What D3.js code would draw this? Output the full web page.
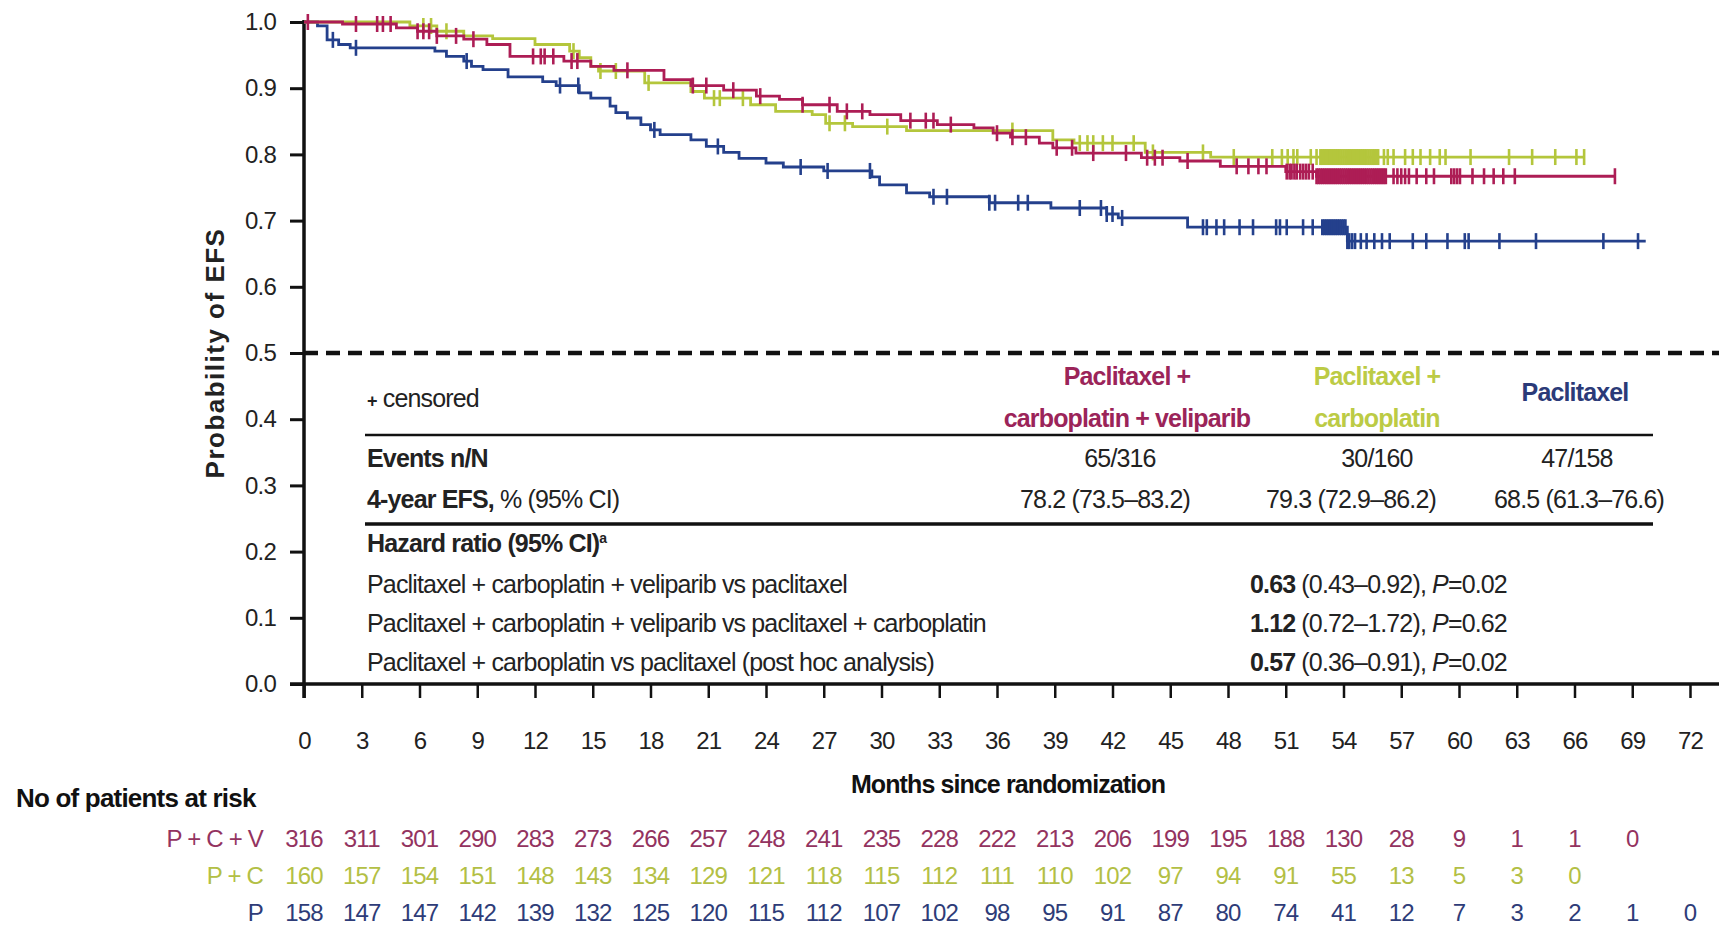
<!DOCTYPE html>
<html>
<head>
<meta charset="utf-8">
<script src="https://cdn.jsdelivr.net/npm/d3@7"></script>
<style>
  body { margin: 0; background: #fff; }
  text { font-family: "Liberation Sans Narrow", "Arial Narrow", "Liberation Sans", sans-serif; }
</style>
</head>
<body>
<svg id="chart"></svg>
<script>
var width = 1719;
var height = 930;

// month ticks and survival ticks
var monthTicks = [0, 3, 6, 9, 12, 15, 18, 21, 24, 27, 30, 33, 36, 39, 42, 45, 48, 51, 54, 57, 60, 63, 66, 69, 72];
var probTicks = [0, 0.1, 0.2, 0.3, 0.4, 0.5, 0.6, 0.7, 0.8, 0.9, 1.0];

var seriesNames = ["P + C + V", "P + C", "P"];
var seriesColors = ["#ad1d55", "#b4c63c", "#24408c"];
var riskColors = ["#93335f", "#b3bf45", "#2e3c78"];

// Kaplan-Meier steps [month, probability], last point = end of follow-up
var kmPCV = [[0, 1.0], [2.0, 0.997], [4.8, 0.991], [5.9, 0.986], [6.9, 0.979], [8.3, 0.974], [9.5, 0.966],
  [10.7, 0.948], [13.5, 0.941], [14.9, 0.933], [16.1, 0.927], [18.7, 0.913], [20.1, 0.904], [21.8, 0.897],
  [23.5, 0.888], [24.7, 0.883], [25.9, 0.875], [27.7, 0.865], [29.4, 0.860], [31.0, 0.851], [32.9, 0.845],
  [34.8, 0.840], [35.8, 0.832], [36.7, 0.826], [38.2, 0.817], [38.9, 0.810], [40.1, 0.802], [43.5, 0.795],
  [45.5, 0.790], [47.6, 0.782], [51.0, 0.774], [52.6, 0.767], [68.1, 0.767]];
var kmPC = [[0, 1.0], [5.5, 0.994], [6.9, 0.986], [8.3, 0.979], [9.8, 0.975], [12.0, 0.966], [13.8, 0.956],
  [14.3, 0.946], [14.9, 0.933], [15.3, 0.926], [17.7, 0.908], [20.1, 0.895], [20.8, 0.885], [23.2, 0.875],
  [24.5, 0.865], [26.4, 0.860], [27.1, 0.847], [28.5, 0.842], [31.3, 0.836], [38.9, 0.822], [40.0, 0.817],
  [43.7, 0.803], [47.1, 0.796], [66.5, 0.796]];
var kmP = [[0, 1.0], [0.7, 0.994], [1.2, 0.973], [1.8, 0.966], [2.4, 0.961], [6.8, 0.956], [7.4, 0.948],
  [8.3, 0.941], [8.7, 0.933], [9.3, 0.928], [10.6, 0.917], [12.4, 0.910], [13.1, 0.904], [14.3, 0.893],
  [14.9, 0.885], [15.9, 0.873], [16.2, 0.863], [16.8, 0.855], [17.5, 0.845], [18.0, 0.837], [18.5, 0.830],
  [20.1, 0.822], [20.9, 0.812], [21.8, 0.803], [22.6, 0.794], [24.0, 0.787], [24.9, 0.781], [27.0, 0.775],
  [29.5, 0.766], [29.9, 0.754], [31.3, 0.742], [32.5, 0.736], [35.6, 0.727], [38.8, 0.719], [41.7, 0.710],
  [42.3, 0.704], [45.9, 0.690], [54.2, 0.669], [69.7, 0.669]];

// censored times (months)
var censPCV = [0.2, 2.7, 3.8, 4.1, 4.5, 5.9, 6.2, 6.5, 6.9, 7.9, 8.8, 11.9, 12.3, 12.5, 12.95, 13.9, 14.2, 16.8,
  20.2, 20.9, 22.3, 23.7, 25.9, 27.3, 28.2, 29.0, 31.5, 32.3, 32.7, 33.6, 36.0, 36.8, 37.5, 39.1, 39.9, 41.0,
  42.7, 43.8, 44.2, 44.6, 45.9, 48.45, 49.06, 49.58, 50.0, 51.05, 51.2, 51.3, 51.45, 51.57, 51.75, 51.9, 52.05,
  52.2, 52.4, 52.6, 52.7, 52.8, 52.9, 53.0, 53.1, 53.2, 53.3, 53.4, 53.5, 53.6, 53.7, 53.8, 53.9, 54.0, 54.1,
  54.2, 54.3, 54.4, 54.5, 54.6, 54.7, 54.8, 54.9, 55.0, 55.1, 55.2, 55.3, 55.4, 55.5, 55.6, 55.7, 55.8, 55.9,
  56.0, 56.1, 56.2, 56.6, 56.8, 57.0, 57.2, 57.4, 57.8, 58.3, 58.7, 59.6, 59.75, 59.9, 60.05, 60.7, 61.3, 61.8,
  62.3, 62.9, 68.1];
var censPC = [6.2, 6.6, 7.4, 14.0, 15.4, 16.2, 17.9, 21.3, 21.6, 22.8, 27.3, 28.1, 30.3, 36.8, 40.3, 40.7, 41.0,
  41.5, 42.0, 43.1, 44.1, 46.7, 48.3, 50.3, 50.8, 51.1, 51.4, 51.6, 52.3, 52.6, 52.8, 52.9, 53.0, 53.1, 53.2,
  53.3, 53.4, 53.5, 53.6, 53.7, 53.8, 53.9, 54.0, 54.1, 54.2, 54.3, 54.4, 54.5, 54.6, 54.7, 54.8, 54.9, 55.0,
  55.1, 55.2, 55.3, 55.4, 55.5, 55.6, 55.7, 55.8, 56.1, 56.3, 56.6, 57.2, 57.6, 58.0, 58.5, 59.0, 59.3, 60.6,
  62.6, 63.8, 65.0, 66.1, 66.5];
var censP = [1.5, 2.7, 8.45, 13.3, 14.25, 18.2, 21.5, 25.8, 27.2, 29.4, 32.7, 33.4, 35.6, 35.9, 37.1, 37.6, 40.3,
  41.4, 41.7, 42.0, 42.5, 46.7, 46.9, 47.4, 47.8, 48.6, 49.3, 50.5, 50.7, 51.05, 51.9, 52.4, 52.9, 53.0, 53.1,
  53.2, 53.3, 53.4, 53.5, 53.6, 53.7, 53.8, 53.9, 54.0, 54.1, 54.2, 54.3, 54.45, 54.6, 54.9, 55.2, 55.6, 56.0,
  56.4, 57.6, 58.3, 59.4, 60.3, 60.5, 62.1, 64.0, 67.5, 69.3];

// number at risk at each month tick
var riskPCV = [316, 311, 301, 290, 283, 273, 266, 257, 248, 241, 235, 228, 222, 213, 206, 199, 195, 188, 130, 28, 9, 1, 1, 0];
var riskPC = [160, 157, 154, 151, 148, 143, 134, 129, 121, 118, 115, 112, 111, 110, 102, 97, 94, 91, 55, 13, 5, 3, 0];
var riskP = [158, 147, 147, 142, 139, 132, 125, 120, 115, 112, 107, 102, 98, 95, 91, 87, 80, 74, 41, 12, 7, 3, 2, 1, 0];

var kmData = [kmPCV, kmPC, kmP];
var censData = [censPCV, censPC, censP];
var riskData = [riskPCV, riskPC, riskP];

var svg = d3.select("#chart")
            .attr("width", width)
            .attr("height", height);

var x = d3.scaleLinear().domain([0, 72]).range([304, 1690]);
var y = d3.scaleLinear().domain([0, 1]).range([684, 22]);

/* axes */
var yAxis = svg.append("g")
   .attr("transform", "translate(" + x(0) + ",0)")
   .call(d3.axisLeft(y).tickValues(probTicks).tickSize(14).tickPadding(14).tickFormat(d3.format(".1f")));
yAxis.select(".domain").remove();
yAxis.selectAll(".tick line").attr("stroke", "#111").attr("stroke-width", 3);
yAxis.selectAll(".tick text").attr("font-size", 24).attr("letter-spacing", -0.8).attr("fill", "#222");

var xAxis = svg.append("g")
   .attr("transform", "translate(0," + y(0) + ")")
   .call(d3.axisBottom(x).tickValues(monthTicks).tickSize(14).tickPadding(34));
xAxis.select(".domain").remove();
xAxis.selectAll(".tick line").attr("stroke", "#111").attr("stroke-width", 2.5);
xAxis.selectAll(".tick text").attr("font-size", 24).attr("letter-spacing", -0.8).attr("fill", "#222");

svg.append("line")
   .attr("x1", x(0) - 14).attr("x2", width)
   .attr("y1", y(0)).attr("y2", y(0))
   .attr("stroke", "#111").attr("stroke-width", 3.5);
svg.append("line")
   .attr("x1", x(0)).attr("x2", x(0))
   .attr("y1", y(1) - 2).attr("y2", y(0) + 14)
   .attr("stroke", "#111").attr("stroke-width", 3.5);

// median reference line
svg.append("line")
   .attr("x1", x(0)).attr("x2", width)
   .attr("y1", y(0.5)).attr("y2", y(0.5))
   .attr("stroke", "#111").attr("stroke-width", 4.5)
   .attr("stroke-dasharray", "14,8");

svg.append("text")
   .attr("transform", "translate(224," + y(0.5) + ") rotate(-90)")
   .attr("text-anchor", "middle")
   .style("font-family", "'Liberation Sans', Arial, sans-serif")
   .attr("font-weight", "bold")
   .attr("font-size", 26)
   .attr("letter-spacing", 1.5)
   .attr("fill", "#222")
   .text("Probability of EFS");

svg.append("text")
   .attr("x", 1008).attr("y", 793)
   .attr("text-anchor", "middle")
   .attr("font-weight", "bold")
   .attr("font-size", 25)
   .attr("letter-spacing", -0.9)
   .attr("fill", "#111")
   .text("Months since randomization");

/* curves */
var line = d3.line()
             .x(function(d) { return x(d[0]); })
             .y(function(d) { return y(d[1]); })
             .curve(d3.curveStepAfter);

function survAt(km, t)
{
  var s = km[0][1];
  km.forEach(function(d) { if (d[0] <= t) s = d[1]; });
  return s;
}

// draw blue first, then green, then red on top
[2, 1, 0].forEach(function(i)
{
  svg.append("path")
     .datum(kmData[i])
     .attr("fill", "none")
     .attr("stroke", seriesColors[i])
     .attr("stroke-width", 2.8)
     .attr("d", line);

  svg.append("g")
     .selectAll("line")
     .data(censData[i])
     .enter()
     .append("line")
     .attr("x1", function(d) { return x(d); })
     .attr("x2", function(d) { return x(d); })
     .attr("y1", function(d) { return y(survAt(kmData[i], d)) - 8; })
     .attr("y2", function(d) { return y(survAt(kmData[i], d)) + 8; })
     .attr("stroke", seriesColors[i])
     .attr("stroke-width", 2.6);
});

/* table in the plot */
var tbl = svg.append("g").attr("fill", "#222").attr("font-size", 25).attr("letter-spacing", -0.85);

tbl.append("text").attr("x", 367).attr("y", 407)
   .html("<tspan font-weight='bold' font-size='18'>+</tspan> censored");

var headers = [
  { lines: ["Paclitaxel +", "carboplatin + veliparib"], cx: 1127, y0: 385, color: "#9b2459" },
  { lines: ["Paclitaxel +", "carboplatin"], cx: 1377, y0: 385, color: "#bccb45" },
  { lines: ["Paclitaxel"], cx: 1575, y0: 401, color: "#2b3a78" }
];
headers.forEach(function(h)
{
  h.lines.forEach(function(t, j)
  {
    tbl.append("text")
       .attr("x", h.cx).attr("y", h.y0 + j * 42)
       .attr("text-anchor", "middle")
       .attr("font-weight", "bold")
       .attr("fill", h.color)
       .text(t);
  });
});

tbl.append("line").attr("x1", 365).attr("x2", 1653).attr("y1", 435).attr("y2", 435)
   .attr("stroke", "#111").attr("stroke-width", 2.5);
tbl.append("line").attr("x1", 365).attr("x2", 1653).attr("y1", 524).attr("y2", 524)
   .attr("stroke", "#111").attr("stroke-width", 3.5);

var eventsN = ["65/316", "30/160", "47/158"];
var efs4 = ["78.2 (73.5\u201383.2)", "79.3 (72.9\u201386.2)", "68.5 (61.3\u201376.6)"];
var eventsX = [1120, 1377, 1577];
var efsX = [1105, 1351, 1579];

tbl.append("text").attr("x", 367).attr("y", 467).attr("font-weight", "bold").text("Events n/N");
tbl.append("text").attr("x", 367).attr("y", 508)
   .html("<tspan font-weight='bold'>4-year EFS,</tspan> % (95% CI)");
eventsN.forEach(function(t, i)
{
  tbl.append("text").attr("x", eventsX[i]).attr("y", 467).attr("text-anchor", "middle").text(t);
  tbl.append("text").attr("x", efsX[i]).attr("y", 508).attr("text-anchor", "middle").text(efs4[i]);
});

tbl.append("text").attr("x", 367).attr("y", 552)
   .html("<tspan font-weight='bold'>Hazard ratio (95% CI)</tspan><tspan font-weight='bold' font-size='14' dy='-9'>a</tspan>");

var hrRows = ["Paclitaxel + carboplatin + veliparib vs paclitaxel",
              "Paclitaxel + carboplatin + veliparib vs paclitaxel + carboplatin",
              "Paclitaxel + carboplatin vs paclitaxel (post hoc analysis)"];
var hrVals = ["0.63", "1.12", "0.57"];
var hrCI = [" (0.43\u20130.92), ", " (0.72\u20131.72), ", " (0.36\u20130.91), "];
var hrP = ["=0.02", "=0.62", "=0.02"];
hrRows.forEach(function(t, i)
{
  var yy = 593 + i * 39;
  tbl.append("text").attr("x", 367).attr("y", yy).text(t);
  tbl.append("text").attr("x", 1250).attr("y", yy)
     .html("<tspan font-weight='bold'>" + hrVals[i] + "</tspan>" + hrCI[i] +
           "<tspan font-style='italic'>P</tspan>" + hrP[i]);
});

/* number at risk */
svg.append("text")
   .attr("x", 16).attr("y", 807)
   .attr("font-weight", "bold")
   .attr("font-size", 26)
   .attr("letter-spacing", -0.8)
   .attr("fill", "#111")
   .text("No of patients at risk");

riskData.forEach(function(row, i)
{
  var yy = 847 + i * 37;
  svg.append("text")
     .attr("x", 263).attr("y", yy)
     .attr("text-anchor", "end")
     .attr("font-size", 24)
     .attr("letter-spacing", -0.8)
     .attr("fill", riskColors[i])
     .text(seriesNames[i]);

  svg.append("g")
     .selectAll("text")
     .data(row)
     .enter()
     .append("text")
     .attr("x", function(d, j) { return x(monthTicks[j]); })
     .attr("y", yy)
     .attr("text-anchor", "middle")
     .attr("font-size", 24)
     .attr("letter-spacing", -0.8)
     .attr("fill", riskColors[i])
     .text(function(d) { return d; });
});
</script>
</body>
</html>
